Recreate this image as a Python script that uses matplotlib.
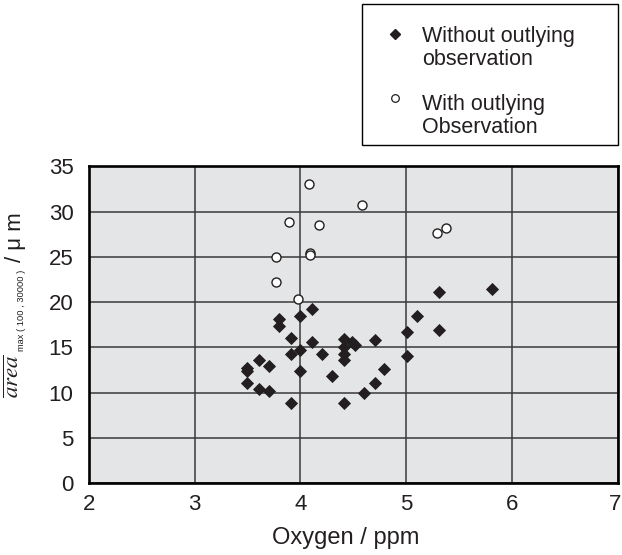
import matplotlib
matplotlib.use("Agg")
import matplotlib.pyplot as plt
from matplotlib.lines import Line2D
from matplotlib.patches import Rectangle
from matplotlib.transforms import ScaledTranslation

# oxygen (ppm) vs mean area, two groups of observations
oxygen_without = [4.11, 4.00, 3.80, 3.80, 3.91, 4.11, 4.41, 4.41, 4.41, 4.41,
                  4.49, 4.52, 4.71, 4.00, 3.91, 4.20, 3.61, 3.70, 3.50, 3.50,
                  4.00, 4.30, 4.79, 3.50, 3.61, 3.70, 4.71, 4.60, 3.91, 4.41,
                  5.01, 5.10, 5.31, 5.01, 5.31, 5.81]
area_without = [19.3, 18.5, 18.1, 17.4, 16.1, 15.6, 15.9, 15.1, 14.3, 13.6,
                15.6, 15.3, 15.8, 14.7, 14.3, 14.3, 13.6, 13.0, 12.7, 12.4,
                12.4, 11.9, 12.6, 11.1, 10.4, 10.2, 11.1, 10.0, 8.9, 8.9,
                16.7, 18.5, 16.9, 14.1, 21.1, 21.5]

oxygen_with = [4.08, 4.58, 3.89, 4.18, 5.38, 5.29, 3.77, 4.09, 4.09, 3.77, 3.98]
area_with = [33.1, 30.7, 28.9, 28.5, 28.2, 27.6, 25.0, 25.4, 25.2, 22.2, 20.4]

x_ticks = [2, 3, 4, 5, 6, 7]
y_ticks = [0, 5, 10, 15, 20, 25, 30, 35]

W, H = 622, 555
plt.rcParams["font.family"] = ["Liberation Sans", "DejaVu Sans"]
ink = "#231f20"


def fxy(x, y):
    # pixel position (from top-left) -> figure fraction
    return x / W, 1 - y / H


fig = plt.figure(figsize=(W / 100, H / 100), dpi=100)
left, right, top, bottom = 88.8, 617.7, 166.4, 483.3
ax = fig.add_axes([left / W, 1 - bottom / H, (right - left) / W, (bottom - top) / H])
ax.set_facecolor("#e4e5e7")

ax.plot(oxygen_without, area_without, linestyle="none", marker="D", ms=6.4,
        mfc=ink, mec=ink, mew=0.6, zorder=3)
ax.plot(oxygen_with, area_with, linestyle="none", marker="o", ms=6.5,
        mfc="white", mec=ink, mew=1.0, zorder=4)

ax.set_xlim(2, 7)
ax.set_ylim(0, 35)
ax.set_xticks(x_ticks)
ax.set_yticks(y_ticks)
ax.grid(True, color="#3a3a3a", linewidth=1.1)
ax.set_axisbelow(True)
ax.tick_params(length=0, labelsize=16, labelcolor=ink)
ax.tick_params(axis="x", pad=8)
ax.tick_params(axis="y", pad=11)
for sp in ax.spines.values():
    sp.set_linewidth(1.9)
    sp.set_color("black")

# keep the last x label inside the figure edge
fig.canvas.draw()
last = ax.get_xticklabels()[-1]
last.set_horizontalalignment("right")
last.set_transform(last.get_transform() + ScaledTranslation(4 / 100, 0, fig.dpi_scale_trans))

ax.set_xlabel("Oxygen / ppm", fontsize=17, color=ink)
ax.xaxis.set_label_coords((345.5 - left) / (right - left), -(526.6 - bottom) / (bottom - top))

# y label built from three rotated pieces
fig.text(*fxy(12.5, 376), r"$\overline{area}$", rotation=90, ha="center", va="center",
         fontsize=16.5, math_fontfamily="stix", color=ink)
fig.text(*fxy(21.5, 310), "max ( 100 , 30000 )", rotation=90, ha="center", va="center",
         fontsize=6.7, color=ink)
fig.text(*fxy(16, 237), "/ μ m", rotation=90, ha="center", va="center",
         fontsize=16, color=ink)

# legend box
x0, y0, x1, y1 = 361.7, 4, 618, 145
fig.add_artist(Rectangle(fxy(x0, y1), (x1 - x0) / W, (y1 - y0) / H,
                         transform=fig.transFigure, facecolor="white",
                         edgecolor="black", linewidth=1.0))
fig.add_artist(Line2D([fxy(395, 34)[0]], [fxy(395, 34)[1]], transform=fig.transFigure,
                      marker="D", ms=5.6, mfc=ink, mec=ink, linestyle="none"))
fig.add_artist(Line2D([fxy(395, 98)[0]], [fxy(395, 98)[1]], transform=fig.transFigure,
                      marker="o", ms=5.5, mfc="white", mec=ink, mew=0.9, linestyle="none"))
legend_lines = [("Without outlying", 41.7), ("observation", 65.0),
                ("With outlying", 110.0), ("Observation", 133.3)]
for txt, base in legend_lines:
    fig.text(*fxy(421.7, base), txt, ha="left", va="baseline", fontsize=15.5, color=ink)

fig.savefig("out.png", dpi=100)
